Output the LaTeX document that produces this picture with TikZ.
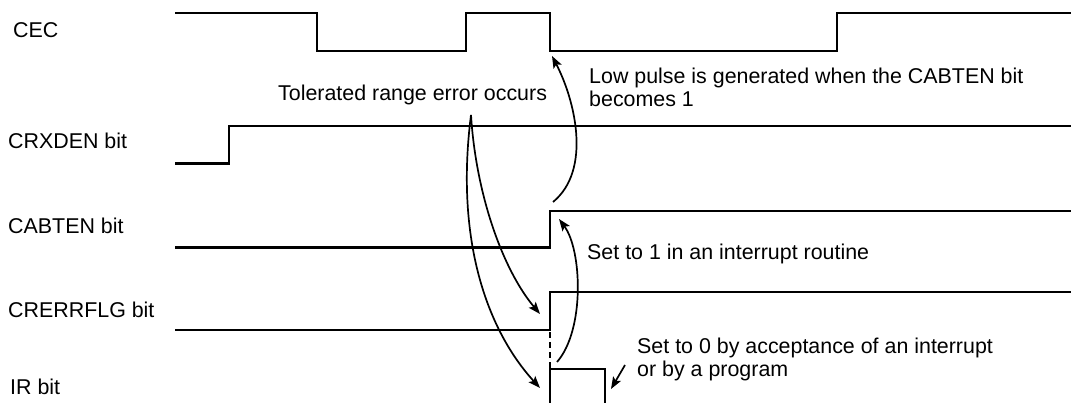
\documentclass[tikz,border=0pt]{standalone}
\usepackage{fontspec}
\setmainfont{Liberation Sans}
\usetikzlibrary{arrows.meta}
\begin{document}
\begin{tikzpicture}[x=1pt,y=-1pt,
  wave/.style={line width=2.2pt,line join=miter,line cap=butt},
  note/.style={-{Stealth[length=12pt,width=9pt,inset=2.5pt]},line width=1.7pt},
  lbl/.style={anchor=base west,inner sep=0pt,font=\fontsize{21.4}{23}\selectfont},
  txt/.style={anchor=base west,inner sep=0pt,align=left,font=\fontsize{21.4}{23}\selectfont}]
\useasboundingbox (0,0) rectangle (1071,403);
% signal labels
\node[lbl] (lcec) at (13,38) {CEC};
\node[lbl] (lcrx) at (8,149) {CRXDEN bit};
\node[lbl] (lcab) at (8,234) {CABTEN bit};
\node[lbl] (lcre) at (8,318) {CRERRFLG bit};
\node[lbl] (lir) at (10,394) {IR bit};
% waveforms
\draw[wave] (175,13.3) -- (317,13.3) -- (317,51) -- (466,51) -- (466,13.3) -- (550,13.3) -- (550,51) -- (837,51) -- (837,13.3) -- (1071,13.3);
\draw[wave] (175,163.5) -- (229,163.5) -- (229,126) -- (1071,126);
\draw[wave] (175,247.5) -- (550,247.5) -- (550,211) -- (1071,211);
\draw[wave] (175,330) -- (550,330) -- (550,292) -- (1071,292);
\draw[wave] (550,403) -- (550,369) -- (605,369) -- (605,403);
\draw[line width=2.2pt,dash pattern=on 6pt off 4pt] (550,332) -- (550,368);
% annotation texts
\node[txt] (terr) at (278,101) {Tolerated range error occurs};
\node[txt,anchor=north west] (tlow) at (589,67.5) {Low pulse is generated when the CABTEN bit\\becomes 1};
\node[txt] (tset1) at (587,260) {Set to 1 in an interrupt routine};
\node[txt,anchor=north west] (tset0) at (637,337.5) {Set to 0 by acceptance of an interrupt\\or by a program};
% arrow end points
\coordinate (es) at (471,115);
\coordinate (ecre) at (540,314);
\coordinate (eir) at (540,388);
\coordinate (ls) at (553,202);
\coordinate (le) at (552,56);
\coordinate (ss) at (557,362);
\coordinate (se) at (559,219);
\coordinate (zs) at (625,365);
\coordinate (ze) at (611,389);
% arrows
\draw[note] (es) .. controls (476,195) and (503,270) .. (ecre);
\draw[note] (es) .. controls (455,240) and (487,330) .. (eir);
\draw[note] (ls) .. controls (592,170) and (575,100) .. (le);
\draw[note] (ss) .. controls (585,330) and (582,250) .. (se);
\draw[note] (zs) -- (ze);
\end{tikzpicture}
\end{document}
